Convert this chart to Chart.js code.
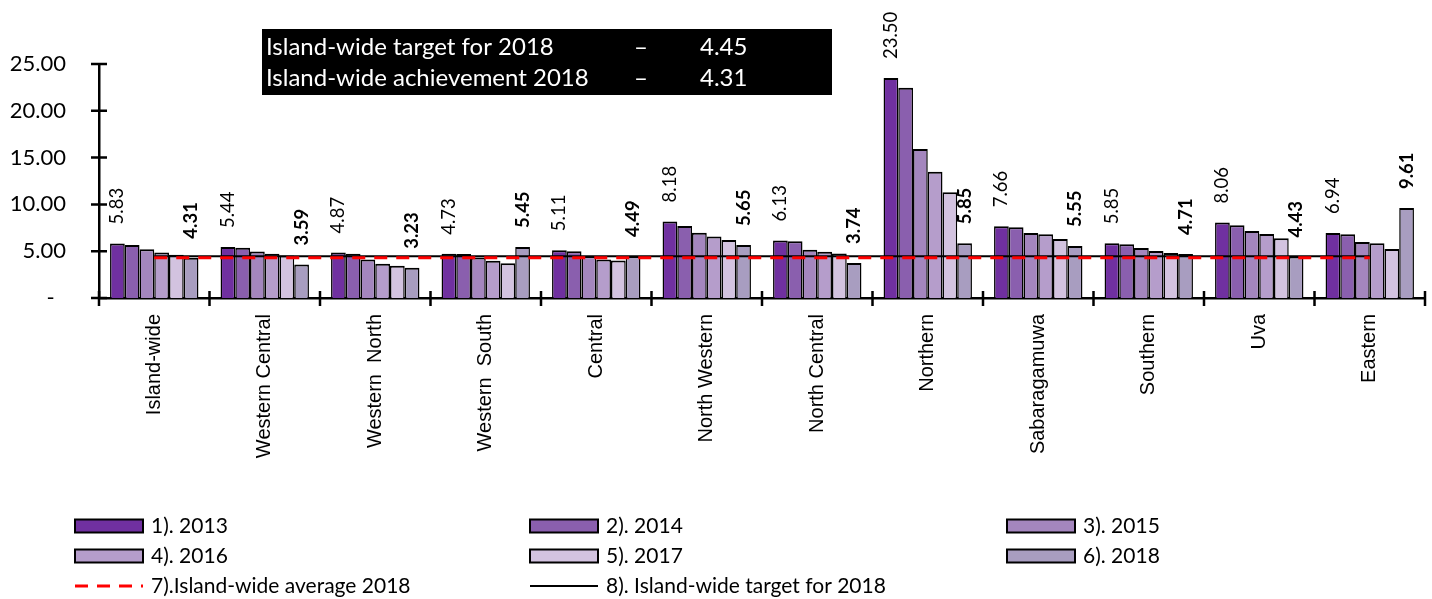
<!DOCTYPE html>
<html>
<head>
<meta charset="utf-8">
<script src="https://cdn.jsdelivr.net/npm/chart.js@4.4.0/dist/chart.umd.min.js"></script>
<style>
  body { margin: 0; background: #fff; }
  canvas { display: block; }
</style>
</head>
<body>
<canvas id="myChart" width="1432" height="599"></canvas>
<script>
const provinces = ['Island-wide', 'Western Central', 'Western  North', 'Western  South', 'Central',
  'North Western', 'North Central', 'Northern', 'Sabaragamuwa', 'Southern', 'Uva', 'Eastern'];

const y2013 = [5.83, 5.44, 4.87, 4.73, 5.11, 8.18, 6.13, 23.50, 7.66, 5.85, 8.06, 6.94];
const y2014 = [5.65, 5.37, 4.73, 4.69, 5.00, 7.68, 6.06, 22.47, 7.55, 5.74, 7.78, 6.80];
const y2015 = [5.22, 4.98, 4.12, 4.34, 4.47, 6.97, 5.15, 15.92, 6.95, 5.35, 7.17, 5.98];
const y2016 = [4.87, 4.73, 3.66, 3.98, 4.11, 6.58, 4.93, 13.50, 6.80, 5.03, 6.85, 5.84];
const y2017 = [4.62, 4.55, 3.45, 3.70, 4.01, 6.19, 4.75, 11.29, 6.30, 4.82, 6.39, 5.23];
const y2018 = [4.31, 3.59, 3.23, 5.45, 4.49, 5.65, 3.74, 5.85, 5.55, 4.71, 4.43, 9.61];

const avg2018 = 4.31;
const target2018 = 4.45;

const yTicks = [0, 5, 10, 15, 20, 25];

const barColors = ['#7030A0', '#8A5FAE', '#A486BE', '#B59DCB', '#D3C3E0', '#A89DC0'];
const barLabels = ['1). 2013', '2). 2014', '3). 2015', '4). 2016', '5). 2017', '6). 2018'];
const barSeries = [y2013, y2014, y2015, y2016, y2017, y2018];

const boxLines = [
  ['Island-wide target for 2018', '4.45'],
  ['Island-wide achievement 2018', '4.31']
];

function barSet(i) {
  return {
    type: 'bar',
    label: barLabels[i],
    data: barSeries[i],
    backgroundColor: barColors[i],
    borderColor: '#000',
    borderWidth: {top: 2, left: 1.5, right: 1.5, bottom: 0},
    borderSkipped: 'bottom',
    categoryPercentage: 0.8,
    barPercentage: 1.0,
    order: 1
  };
}

// value labels over first and last year
const valueLabels = {
  id: 'valueLabels',
  afterDatasetsDraw(chart) {
    const ctx = chart.ctx;
    [[0, 'normal'], [5, 'bold']].forEach(([di, weight]) => {
      const meta = chart.getDatasetMeta(di);
      meta.data.forEach((bar, i) => {
        const v = chart.data.datasets[di].data[i];
        ctx.save();
        ctx.translate(bar.x, bar.y - 19);
        ctx.rotate(-Math.PI / 2);
        ctx.font = weight + ' 18.5px Lato';
        ctx.fillStyle = '#000';
        ctx.textAlign = 'left';
        ctx.textBaseline = 'middle';
        ctx.fillText(v.toFixed(2), 0, 0);
        ctx.restore();
      });
    });
  }
};

// tick marks crossing both axes, excel style
const crossTicks = {
  id: 'crossTicks',
  afterDraw(chart) {
    const ctx = chart.ctx;
    const ys = chart.scales.y;
    const area = chart.chartArea;
    ctx.save();
    ctx.strokeStyle = '#000';
    ctx.lineWidth = 2.5;
    ctx.beginPath();
    yTicks.forEach(t => {
      const py = ys.getPixelForValue(t);
      ctx.moveTo(area.left - 8, py);
      ctx.lineTo(area.left + 8, py);
    });
    const step = (area.right - area.left) / provinces.length;
    for (let i = 0; i <= provinces.length; i++) {
      const px = area.left + i * step;
      ctx.moveTo(px, area.bottom - 7);
      ctx.lineTo(px, area.bottom + 8);
    }
    ctx.stroke();
    ctx.restore();
  }
};

// black note box + legend grid
const extras = {
  id: 'extras',
  afterDraw(chart) {
    const ctx = chart.ctx;
    ctx.save();
    ctx.fillStyle = '#000';
    ctx.fillRect(262, 29, 570, 66);
    ctx.fillStyle = '#fff';
    ctx.font = '24px Lato';
    ctx.textBaseline = 'middle';
    boxLines.forEach((ln, i) => {
      const y = 47 + i * 31;
      ctx.fillText(ln[0], 266, y);
      ctx.fillText('–', 634, y);
      ctx.fillText(ln[1], 700, y);
    });

    const cols = [75, 530, 1007];
    const rows = [526, 556, 586];
    ctx.font = '21px Lato';
    chart.data.datasets.forEach((ds, i) => {
      const x = cols[i % 3], y = rows[Math.floor(i / 3)];
      if (ds.type === 'bar') {
        ctx.fillStyle = ds.backgroundColor;
        ctx.fillRect(x, y - 6.5, 68, 13);
        ctx.strokeStyle = '#000';
        ctx.lineWidth = 2;
        ctx.strokeRect(x, y - 6.5, 68, 13);
      } else {
        ctx.strokeStyle = ds.borderColor;
        ctx.lineWidth = ds.borderWidth;
        ctx.setLineDash(ds.borderDash || []);
        ctx.beginPath();
        ctx.moveTo(x, y);
        ctx.lineTo(x + 68, y);
        ctx.stroke();
        ctx.setLineDash([]);
      }
      ctx.fillStyle = '#000';
      ctx.fillText(ds.label, x + 76, y);
    });
    ctx.restore();
  }
};

new Chart(document.getElementById('myChart'), {
  type: 'bar',
  data: {
    labels: provinces,
    datasets: [
      barSet(0), barSet(1), barSet(2), barSet(3), barSet(4), barSet(5),
      {
        type: 'line',
        label: '7).Island-wide average 2018',
        data: provinces.map(() => avg2018),
        borderColor: '#FF0000',
        borderWidth: 3,
        borderDash: [13, 9],
        pointRadius: 0,
        order: 0
      },
      {
        type: 'line',
        label: '8). Island-wide target for 2018',
        data: provinces.map(() => target2018),
        borderColor: '#000',
        borderWidth: 2,
        pointRadius: 0,
        order: 0
      }
    ]
  },
  options: {
    responsive: false,
    animation: false,
    devicePixelRatio: 1,
    layout: {padding: {top: 64, right: 7, left: 0, bottom: 0}},
    plugins: {legend: {display: false}, tooltip: {enabled: false}},
    scales: {
      x: {
        grid: {display: false, drawTicks: false},
        border: {display: true, color: '#000', width: 2.5},
        ticks: {
          minRotation: 90, maxRotation: 90, autoSkip: false,
          padding: 16, color: '#000',
          font: {family: 'Liberation Sans', size: 20}
        },
        afterFit(s) { s.height = 301; }
      },
      y: {
        min: 0, max: 25,
        grid: {display: false, drawTicks: false},
        border: {display: true, color: '#000', width: 2.5},
        ticks: {
          stepSize: 5, padding: 33, color: '#000',
          font: {family: 'Lato', size: 22},
          callback: v => v === 0 ? '-  ' : v.toFixed(2)
        },
        afterFit(s) { s.width = 99; }
      }
    }
  },
  plugins: [valueLabels, crossTicks, extras]
});
</script>
</body>
</html>
